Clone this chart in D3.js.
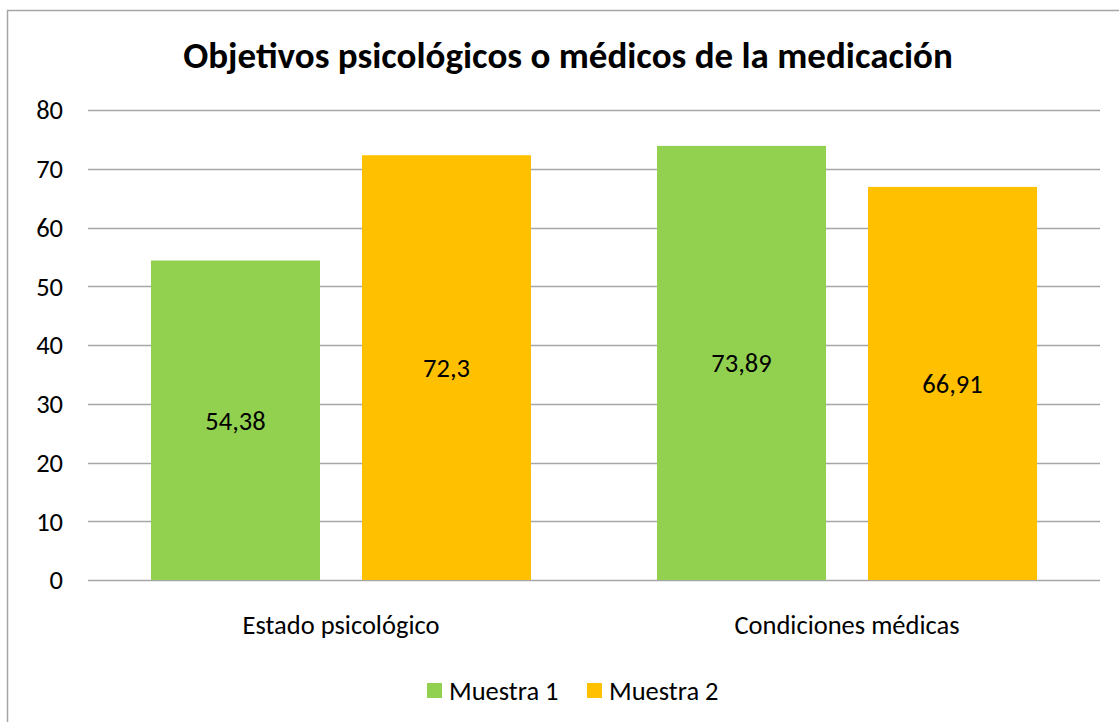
<!DOCTYPE html>
<html>
<head>
<meta charset="utf-8">
<script src="https://cdn.jsdelivr.net/npm/d3@7"></script>
<style>
  body { margin: 0; background: #fff; }
  text { font-family: Carlito, Calibri, "Open Sans", sans-serif; fill: #000; }
</style>
</head>
<body>
<div class="chart"></div>
<script>
var width = 1119,
    height = 722;

var title = "Objetivos psicológicos o médicos de la medicación";
var categories = ["Estado psicológico", "Condiciones médicas"];
var seriesNames = ["Muestra 1", "Muestra 2"];
var muestra1 = [54.38, 73.89];
var muestra2 = [72.3, 66.91];
var labels1 = ["54,38", "73,89"];
var labels2 = ["72,3", "66,91"];
var yTicks = [0, 10, 20, 30, 40, 50, 60, 70, 80];
var colors = ["#92d050", "#ffc000"];

var margin = { top: 110, right: 19, bottom: 142, left: 88 };

var svg = d3.select(".chart").append("svg")
    .attr("width", width)
    .attr("height", height);

// outer chart frame (runs off right/bottom edge like the original crop)
svg.append("rect")
    .attr("x", 7.5).attr("y", 10.5)
    .attr("width", width + 20).attr("height", height + 20)
    .attr("fill", "none")
    .attr("stroke", "#a6a6a6")
    .attr("stroke-width", 1.5);

svg.append("text")
    .attr("x", 568)
    .attr("y", 68)
    .attr("text-anchor", "middle")
    .style("font-size", "37px")
    .style("font-weight", "bold")
    .text(title);

var x0 = d3.scaleBand()
    .domain(categories)
    .range([margin.left, width - margin.right])
    .paddingInner(0)
    .paddingOuter(0);

var x1 = d3.scaleBand()
    .domain(seriesNames)
    .range([0, x0.bandwidth()])
    .paddingInner(0.199)
    .paddingOuter(0.2986);

var y = d3.scaleLinear()
    .domain([0, 80])
    .range([height - margin.bottom, margin.top]);

// gridlines
svg.append("g")
    .selectAll("line")
    .data(yTicks)
    .enter().append("line")
    .attr("x1", margin.left)
    .attr("x2", width - margin.right)
    .attr("y1", function(d) { return Math.round(y(d)) + 0.5; })
    .attr("y2", function(d) { return Math.round(y(d)) + 0.5; })
    .attr("stroke", "#a6a6a6")
    .attr("stroke-width", 1.5);

// y labels
svg.append("g")
    .selectAll("text")
    .data(yTicks)
    .enter().append("text")
    .attr("x", 63)
    .attr("y", function(d) { return y(d); })
    .attr("dy", "0.35em")
    .attr("text-anchor", "end")
    .style("font-size", "26.5px")
    .text(function(d) { return d; });

var rows = categories.map(function(c, i) {
    return [
        { cat: c, s: seriesNames[0], v: muestra1[i], label: labels1[i], color: colors[0] },
        { cat: c, s: seriesNames[1], v: muestra2[i], label: labels2[i], color: colors[1] }
    ];
});

var groups = svg.append("g")
    .selectAll("g")
    .data(rows)
    .enter().append("g")
    .attr("transform", function(d) { return "translate(" + x0(d[0].cat) + ",0)"; });

groups.selectAll("rect")
    .data(function(d) { return d; })
    .enter().append("rect")
    .attr("x", function(d) { return x1(d.s); })
    .attr("width", x1.bandwidth())
    .attr("y", function(d) { return y(d.v); })
    .attr("height", function(d) { return y(0) - y(d.v); })
    .attr("fill", function(d) { return d.color; });

groups.selectAll("text")
    .data(function(d) { return d; })
    .enter().append("text")
    .attr("x", function(d) { return x1(d.s) + x1.bandwidth() / 2; })
    .attr("y", function(d) { return (y(d.v) + y(0)) / 2; })
    .attr("dy", "0.35em")
    .attr("text-anchor", "middle")
    .style("font-size", "26.5px")
    .text(function(d) { return d.label; });

// category labels
svg.append("g")
    .selectAll("text")
    .data(categories)
    .enter().append("text")
    .attr("x", function(d) { return x0(d) + x0.bandwidth() / 2; })
    .attr("y", 625)
    .attr("dy", "0.35em")
    .attr("text-anchor", "middle")
    .style("font-size", "26.5px")
    .text(function(d) { return d; });

// legend
var legendX = [427, 587];
var legend = svg.append("g")
    .selectAll("g")
    .data(seriesNames)
    .enter().append("g")
    .attr("transform", function(d, i) { return "translate(" + legendX[i] + ",683)"; });

legend.append("rect")
    .attr("width", 15)
    .attr("height", 15)
    .attr("fill", function(d, i) { return colors[i]; });

legend.append("text")
    .attr("x", 22)
    .attr("y", 8)
    .attr("dy", "0.35em")
    .style("font-size", "26.5px")
    .text(function(d) { return d; });
</script>
</body>
</html>
